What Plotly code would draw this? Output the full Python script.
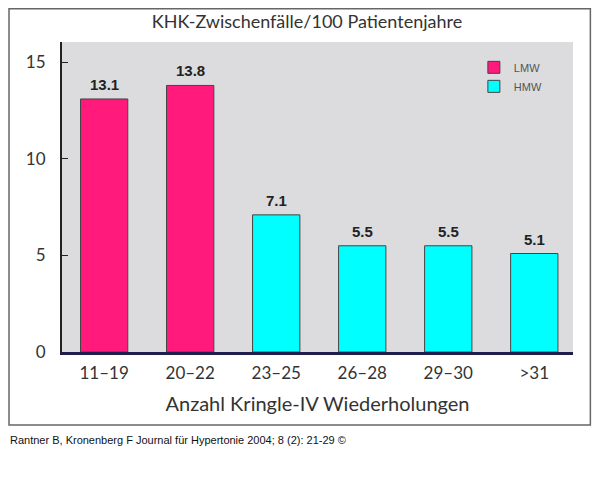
import plotly.graph_objects as go

# Kategorien und Werte (KHK-Zwischenfälle/100 Patientenjahre)
categories = ['11–19', '20–22', '23–25', '26–28', '29–30', '>31']
lmw_cats = ['11–19', '20–22']
lmw_vals = [13.1, 13.8]
hmw_cats = ['23–25', '26–28', '29–30', '>31']
hmw_vals = [7.1, 5.5, 5.5, 5.1]
y_ticks = [0, 5, 10, 15]

PINK = '#FF1A7C'
CYAN = '#00FFFF'
TXT = '#333333'

fig = go.Figure()

fig.add_trace(go.Bar(
    x=lmw_cats, y=lmw_vals, name='LMW',
    marker=dict(color=PINK, line=dict(color='#444444', width=1)),
    width=0.55,
))
fig.add_trace(go.Bar(
    x=hmw_cats, y=hmw_vals, name='HMW',
    marker=dict(color=CYAN, line=dict(color='#444444', width=1)),
    width=0.55,
))

# Werte über den Balken
for cat, val in zip(lmw_cats + hmw_cats, lmw_vals + hmw_vals):
    fig.add_annotation(
        x=cat, y=val, text=f'<b>{val:.1f}</b>',
        showarrow=False, yanchor='bottom', yshift=4,
        font=dict(family='Arial, Liberation Sans', size=15, color='#222222'),
    )

# Rahmen um die gesamte Grafik
fig.add_shape(type='rect', xref='paper', yref='paper',
              x0=-0.1037, x1=1.034, y0=-0.2355, y1=1.107,
              line=dict(color='#666666', width=1.5), layer='below')

# Quellenangabe
fig.add_annotation(
    text='Rantner B, Kronenberg F Journal für Hypertonie 2004; 8 (2): 21-29 ©',
    xref='paper', yref='paper', x=-0.106, y=-0.284,
    xanchor='left', yanchor='middle', showarrow=False,
    font=dict(family='Liberation Sans Narrow, Arial Narrow, Arial', size=11, color='#111111'),
)

# Seite hat 8px Rand -> Grafik kleiner, damit keine Scrollbalken entstehen
fig.update_layout(
    width=584, height=474,
    margin=dict(l=54, r=19, t=34, b=130),
    paper_bgcolor='white',
    plot_bgcolor='#DCDCDE',
    barmode='overlay',
    title=dict(
        text='KHK-Zwischenfälle/100 Patientenjahre',
        x=299 / 584, xref='container', xanchor='center',
        y=1 - 14 / 474, yref='container', yanchor='middle',
        font=dict(family='Lato, Open Sans', size=18, color=TXT),
    ),
    legend=dict(
        x=0.806, y=0.965, xanchor='left', yanchor='top',
        bgcolor='rgba(0,0,0,0)',
        font=dict(family='Arial, Liberation Sans', size=11, color='#555555'),
        tracegroupgap=0,
    ),
    xaxis=dict(
        categoryorder='array', categoryarray=categories,
        range=[-0.49, 5.45],
        showline=True, linecolor='#1E1E4E', linewidth=3,
        ticks='', showgrid=False,
        tickfont=dict(family='Lato, Open Sans', size=17, color=TXT),
        ticklabelstandoff=4,
        title=dict(text='Anzahl Kringle-IV Wiederholungen', standoff=15,
                   font=dict(family='Lato, Open Sans', size=20, color=TXT)),
    ),
    yaxis=dict(
        range=[0, 16.05],
        tickvals=y_ticks,
        showline=True, linecolor='#222222', linewidth=2,
        ticks='inside', ticklen=6, tickcolor='#222222', tickwidth=1,
        showgrid=False, zeroline=False,
        tickfont=dict(family='Lato, Open Sans', size=17, color=TXT),
        ticklabelstandoff=11,
    ),
)

fig.write_html('out.html')
